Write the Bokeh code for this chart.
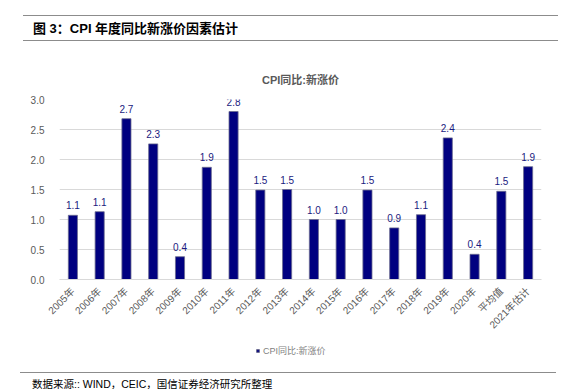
from math import pi
from bokeh.plotting import figure
from bokeh.models import (ColumnDataSource, LabelSet, Legend, LegendItem, Range1d,
                          PrintfTickFormatter, Div)
from bokeh.core.properties import value
from bokeh.layouts import column
from bokeh.embed import file_html
from bokeh.resources import INLINE

categories = ["2005年", "2006年", "2007年", "2008年", "2009年", "2010年", "2011年", "2012年",
              "2013年", "2014年", "2015年", "2016年", "2017年", "2018年", "2019年", "2020年",
              "平均值", "2021年估计"]
values = [1.07, 1.13, 2.68, 2.26, 0.38, 1.87, 2.80, 1.49, 1.50, 1.00, 1.00, 1.49, 0.86, 1.08,
          2.36, 0.42, 1.47, 1.88]
series_name = "CPI同比:新涨价"
header_text = "图 3：CPI 年度同比新涨价因素估计"
source_text = "数据来源:: WIND，CEIC，国信证券经济研究所整理"
y_ticks = [0.0, 0.5, 1.0, 1.5, 2.0, 2.5, 3.0]

FONT = "Liberation Sans, Noto Sans CJK SC, sans-serif"
BAR = "#000080"
GRAY = "#595959"
RULE = "#8c8c8c"
W = 563

# header
header = Div(
    text=('<div style="margin:10px 0 -4px 18px; width:535px; height:26px; line-height:26px; '
          'border-top:1px solid %s; border-bottom:1px solid %s; padding-left:10px; '
          'font-family:%s; font-weight:bold; font-size:13px; color:#000; '
          'white-space:nowrap;">%s</div>') % (RULE, RULE, FONT, header_text),
    width=W, height=44)

# main chart
labels = ["%.1f" % v for v in values]
src = ColumnDataSource(dict(cat=categories, val=values, lab=labels))

p = figure(x_range=categories, y_range=Range1d(0, 3.0), width=W, height=290,
           output_backend="svg", toolbar_location=None,
           min_border_left=59, min_border_right=22, min_border_top=45, min_border_bottom=65)
p.title.text = series_name
p.title.align = "center"
p.title.text_font = FONT
p.title.text_font_size = "11px"
p.title.text_color = GRAY
p.title.text_font_style = "bold"
p.title.standoff = 28

r = p.vbar(x="cat", top="val", width=0.34, source=src, fill_color=BAR,
           line_color="#6b6b8f", line_width=0.8)

p.add_layout(LabelSet(x="cat", y="val", text="lab", source=src, y_offset=6,
                      text_align="center", text_baseline="bottom",
                      text_font_size=value("10px"), text_color=value("#1a1a80"),
                      text_font=value(FONT)))

p.outline_line_color = None
p.xgrid.grid_line_color = None
p.ygrid.grid_line_color = "#d9d9d9"
p.yaxis.ticker = y_ticks
p.yaxis.formatter = PrintfTickFormatter(format="%.1f")
p.yaxis.axis_line_color = None
p.yaxis.major_tick_line_color = None
p.yaxis.minor_tick_line_color = None
p.yaxis.major_label_standoff = 9
p.yaxis.major_label_text_font_size = "10px"
p.yaxis.major_label_text_color = GRAY
p.yaxis.major_label_text_font = FONT

p.xaxis.axis_line_color = "#d9d9d9"
p.xaxis.major_tick_line_color = None
p.xaxis.major_label_orientation = pi / 4
p.xaxis.major_label_standoff = 4
p.xaxis.major_label_text_font_size = "10px"
p.xaxis.major_label_text_color = GRAY
p.xaxis.major_label_text_font = FONT

# legend strip (its frame is aligned with the chart frame by the column)
lg = figure(width=W, height=20, x_range=Range1d(0, 1), y_range=Range1d(0, 1),
            x_axis_type=None, y_axis_type=None, output_backend="svg", toolbar_location=None,
            min_border_left=59, min_border_right=22, min_border_top=0, min_border_bottom=0)
lg.grid.visible = False
lg.outline_line_color = None
proxy = lg.scatter(x=[-5], y=[-5], marker="square", size=7, fill_color=BAR,
                   line_color="#6b6b8f")
legend = Legend(items=[LegendItem(label=series_name, renderers=[proxy])],
                location=(195, 7), orientation="horizontal",
                label_text_font_size="9px", label_text_color="#7f7f7f", label_text_font=FONT,
                glyph_width=7, glyph_height=7, label_standoff=2, padding=0, margin=0,
                border_line_color=None, background_fill_alpha=0)
lg.add_layout(legend)

# source note
footer = Div(
    text=('<div style="margin:3px 0 -9px 15px; width:536px; border-top:1px solid %s; '
          'padding-left:12px; line-height:22px; font-family:%s; font-size:10.5px; '
          'color:#000; white-space:nowrap;">%s</div>') % (RULE, FONT, source_text),
    width=W, height=27)

layout = column(header, p, lg, footer, spacing=0)
open("out.html", "w").write(file_html(layout, INLINE))
